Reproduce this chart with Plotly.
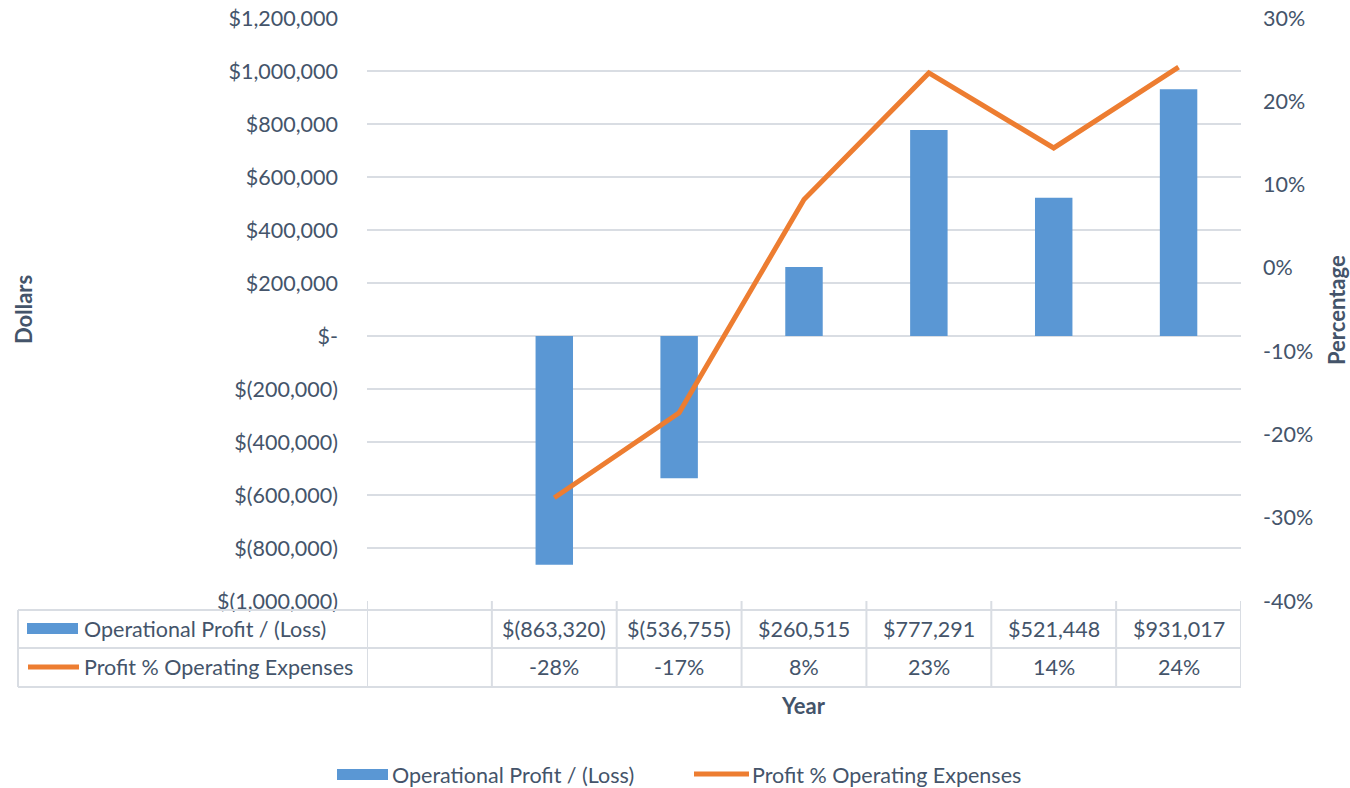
import plotly.graph_objects as go

# ---- data ----
columns = ["", "1", "2", "3", "4", "5", "6"]          # first column is empty in the reference
profit = [None, -863320, -536755, 260515, 777291, 521448, 931017]
profit_labels = ["", "$(863,320)", "$(536,755)", "$260,515", "$777,291", "$521,448", "$931,017"]
pct = [None, -27.6, -17.4, 8.2, 23.4, 14.4, 24.1]
pct_labels = ["", "-28%", "-17%", "8%", "23%", "14%", "24%"]
series_names = ["Operational Profit / (Loss)", "Profit % Operating Expenses"]
dollar_ticks = [1200000, 1000000, 800000, 600000, 400000, 200000, 0,
                -200000, -400000, -600000, -800000, -1000000]
dollar_ticktext = ["$1,200,000", "$1,000,000", "$800,000", "$600,000", "$400,000", "$200,000",
                   "$-", "$(200,000)", "$(400,000)", "$(600,000)", "$(800,000)", "$(1,000,000)"]
pct_ticks = [30, 20, 10, 0, -10, -20, -30, -40]
pct_ticktext = ["30%", "20%", "10%", "0%", "-10%", "-20%", "-30%", "-40%"]

BLUE = "#5A97D4"
ORANGE = "#ED7D31"
TXT = "#44546A"
GRID = "#D9DDE3"
FONT = "Lato"
FS = 21.5

xs = list(range(len(columns)))

fig = go.Figure()
fig.add_trace(go.Bar(x=xs, y=profit, name=series_names[0], marker_color=BLUE,
                     width=0.30, showlegend=False))
fig.add_trace(go.Scatter(x=xs, y=pct, name=series_names[1], yaxis="y2", mode="lines",
                         line=dict(color=ORANGE, width=5), showlegend=False))

W, H = 1350, 788
L, R, T, B = 367, 1241, 18, 601
pw, ph = R - L, B - T


def py(ypx):
    return (B - ypx) / ph


def px(xpx):
    return (xpx - L) / pw


shapes = []
annotations = []
line_style = dict(color=GRID, width=2)
tfont = dict(family=FONT, size=FS, color=TXT)
bfont = dict(family=FONT, size=22, color=TXT)


def note(x, y, text, font, xref="paper", xanchor="center", **kw):
    annotations.append(dict(x=x, y=y, xref=xref, yref="paper", text=text, font=font,
                            showarrow=False, xanchor=xanchor, yanchor="middle", **kw))


# data table: horizontal lines
for ypx in [610, 648, 687]:
    shapes.append(dict(type="line", xref="paper", yref="paper", x0=px(18), x1=1,
                       y0=py(ypx), y1=py(ypx), line=line_style))
# left edge of table
shapes.append(dict(type="line", xref="paper", yref="paper", x0=px(18), x1=px(18),
                   y0=py(610), y1=py(687), line=line_style))
# column separators
for i in range(len(columns) + 1):
    shapes.append(dict(type="line", xref="x", yref="paper", x0=i - 0.5, x1=i - 0.5,
                       y0=py(601), y1=py(687), line=line_style))

# table values
for i in xs:
    if profit_labels[i]:
        note(i, py(629), profit_labels[i], tfont, xref="x")
    if pct_labels[i]:
        note(i, py(667), pct_labels[i], tfont, xref="x")

# table row headers with legend keys
shapes.append(dict(type="rect", xref="paper", yref="paper", x0=px(27), x1=px(78),
                   y0=py(634), y1=py(623), fillcolor=BLUE, line=dict(width=0)))
note(px(82), py(629), series_names[0], tfont, xanchor="left")
shapes.append(dict(type="line", xref="paper", yref="paper", x0=px(28), x1=px(79),
                   y0=py(667), y1=py(667), line=dict(color=ORANGE, width=5)))
note(px(82), py(667), series_names[1], tfont, xanchor="left")

# bottom legend
shapes.append(dict(type="rect", xref="paper", yref="paper", x0=px(337), x1=px(388),
                   y0=py(780), y1=py(769), fillcolor=BLUE, line=dict(width=0)))
note(px(390), py(775), series_names[0], tfont, xanchor="left")
shapes.append(dict(type="line", xref="paper", yref="paper", x0=px(694), x1=px(749),
                   y0=py(774), y1=py(774), line=dict(color=ORANGE, width=5)))
note(px(750), py(775), series_names[1], tfont, xanchor="left")

# axis titles
note(px(23), py(310), "<b>Dollars</b>", bfont, textangle=-90)
note(px(1336), py(310), "<b>Percentage</b>", bfont, textangle=-90)
note(px(803), py(705), "<b>Year</b>", bfont)

fig.update_layout(
    template="none",
    width=W, height=H,
    margin=dict(l=L, r=W - R, t=T, b=H - B, pad=0, autoexpand=False),
    plot_bgcolor="white", paper_bgcolor="white",
    font=dict(family=FONT, size=FS, color=TXT),
    xaxis=dict(range=[-0.5, len(columns) - 0.5], showticklabels=False, showgrid=False,
               zeroline=False, showline=False, ticks="", automargin=False),
    yaxis=dict(range=[-1000000, 1200000], tickvals=dollar_ticks, ticktext=dollar_ticktext,
               showgrid=True, gridcolor=GRID, gridwidth=2, zeroline=False, showline=False,
               ticks="", ticklabelstandoff=28, automargin=False),
    yaxis2=dict(range=[-40, 30], tickvals=pct_ticks, ticktext=pct_ticktext, overlaying="y",
                side="right", showgrid=False, zeroline=False, showline=False, ticks="",
                ticklabelstandoff=21, automargin=False),
    shapes=shapes,
    annotations=annotations,
    showlegend=False,
)

fig.write_html("out.html", config={"displayModeBar": False},
               post_script="document.body.style.margin='0';")
